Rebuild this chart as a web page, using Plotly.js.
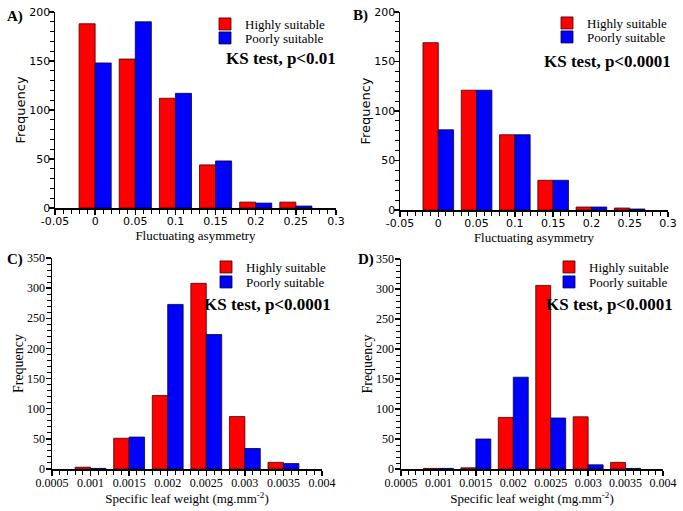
<!DOCTYPE html>
<html>
<head>
<meta charset="utf-8">
<script src="https://cdn.plot.ly/plotly-3.0.1.min.js"></script>
<style>html,body{margin:0;padding:0;background:#fff;}#chart{width:683px;height:511px;}</style>
</head>
<body>
<div id="chart"></div>
<script>
// Bin centres
const faBins = [0, 0.05, 0.1, 0.15, 0.2, 0.25];
const slwBins = [0.001, 0.0015, 0.002, 0.0025, 0.003, 0.0035];

// Panel A (Fluctuating asymmetry)
const aHigh = [188, 152, 112, 44, 6, 6];
const aPoor = [148, 190, 117, 48, 5, 2];
// Panel B
const bHigh = [169, 121, 76, 30, 3, 2];
const bPoor = [81, 121, 76, 30, 3, 1];
// Panel C (Specific leaf weight)
const cHigh = [3, 51, 122, 308, 87, 11];
const cPoor = [1, 53, 273, 223, 34, 9];
// Panel D
const dHigh = [1, 2, 86, 306, 87, 11];
const dPoor = [1, 50, 153, 85, 7, 1];

const seriesNames = ["Highly suitable", "Poorly suitable"];
const panelLabels = ["A)", "B)", "C)", "D)"];
const ksTexts = ["KS test, p<0.01", "KS test, p<0.0001", "KS test, p<0.0001", "KS test, p<0.0001"];
const faTickVals = [-0.05, 0, 0.05, 0.1, 0.15, 0.2, 0.25, 0.3];
const faTickText = ["-0.05", "0", "0.05", "0.1", "0.15", "0.2", "0.25", "0.3"];
const slwTickVals = [0.0005, 0.001, 0.0015, 0.002, 0.0025, 0.003, 0.0035, 0.004];
const slwTickText = ["0.0005", "0.001", "0.0015", "0.002", "0.0025", "0.003", "0.0035", "0.004"];

const RED = "#ff0000", BLUE = "#0000ff";
const W = 683, H = 511;
const SERIF = "Liberation Serif, Times New Roman, serif";
const SANS = "DejaVu Sans, Verdana, sans-serif";

function px(x) { return x / W; }
function py(y) { return (H - y) / H; }

const panels = [
  {x: faBins, hi: aHigh, po: aPoor, xa: "x", ya: "y", lgH: "legend", lgP: "legend5"},
  {x: faBins, hi: bHigh, po: bPoor, xa: "x2", ya: "y2", lgH: "legend2", lgP: "legend6"},
  {x: slwBins, hi: cHigh, po: cPoor, xa: "x3", ya: "y3", lgH: "legend3", lgP: "legend7"},
  {x: slwBins, hi: dHigh, po: dPoor, xa: "x4", ya: "y4", lgH: "legend4", lgP: "legend8"}
];

const data = [];
panels.forEach(p => {
  data.push({type: "bar", x: p.x, y: p.hi, name: seriesNames[0], xaxis: p.xa, yaxis: p.ya, legend: p.lgH,
    marker: {color: RED, line: {color: "#400000", width: 0.8}}, hoverinfo: "x+y"});
  data.push({type: "bar", x: p.x, y: p.po, name: seriesNames[1], xaxis: p.xa, yaxis: p.ya, legend: p.lgP,
    marker: {color: BLUE, line: {color: "#000040", width: 0.8}}, hoverinfo: "x+y"});
});

function xAxis(domain, range, tv, tt, minorDt, title, anchor, tickFont) {
  return {
    domain: domain, range: range, anchor: anchor, showgrid: false, zeroline: false,
    showline: true, linecolor: "#000", linewidth: 1.5,
    ticks: "outside", ticklen: 5, tickwidth: 1.5, tickcolor: "#000",
    tickmode: "array", tickvals: tv, ticktext: tt, ticklabelstandoff: -3,
    minor: {dtick: minorDt, ticks: "outside", ticklen: 4, tickwidth: 1, tickcolor: "#000", showgrid: false},
    tickfont: tickFont,
    title: {text: title, font: {family: SERIF, size: 13, color: "#000"}, standoff: 0},
    fixedrange: true
  };
}
function yAxis(domain, range, dt, anchor, tickFont, titleFont, lblOff) {
  return {
    domain: domain, range: range, anchor: anchor, showgrid: false, zeroline: false,
    showline: true, linecolor: "#000", linewidth: 1.5,
    ticks: "outside", ticklen: 5, tickwidth: 1.5, tickcolor: "#000",
    dtick: dt, tick0: 0, ticklabelstandoff: lblOff,
    minor: {dtick: 10, ticks: "outside", ticklen: 4, tickwidth: 1, tickcolor: "#000", showgrid: false},
    tickfont: tickFont,
    title: {text: "Frequency", font: titleFont, standoff: 0},
    fixedrange: true
  };
}

const faTickFont = {family: SANS, size: 11, color: "#000"};
const slwTickFont = {family: SERIF, size: 12, color: "#000"};
const sansTitle = {family: SANS, size: 13, color: "#000"};
const serifTitle = {family: SERIF, size: 14, color: "#000"};
const slwTitle = "Specific leaf weight (mg.mm<sup>-2</sup>)";

// text row centre (ty) and text left edge (tx) in pixels
function legendAt(tx, ty) {
  return {x: px(tx - 41), y: py(ty - 15), xref: "paper", yref: "paper", xanchor: "left", yanchor: "top",
    bgcolor: "rgba(0,0,0,0)", font: {family: SERIF, size: 13, color: "#000"},
    itemwidth: 30, tracegroupgap: 0};
}

function ann(text, x, y, anchor, size) {
  return {text: "<b>" + text + "</b>", x: px(x), y: py(y), xref: "paper", yref: "paper",
    xanchor: anchor, yanchor: "middle", showarrow: false, font: {family: SERIF, size: size, color: "#000"}};
}

const layout = {
  width: W, height: H, margin: {l: 0, r: 0, t: 0, b: 0},
  paper_bgcolor: "#fff", plot_bgcolor: "#fff",
  barmode: "group", bargap: 0.2, bargroupgap: 0,
  showlegend: true,
  xaxis: xAxis([px(55), px(336)], [-0.05, 0.3], faTickVals, faTickText, 0.01, "Fluctuating asymmetry", "y", faTickFont),
  yaxis: yAxis([py(208), py(12)], [0, 200], 50, "x", faTickFont, sansTitle, -4),
  xaxis2: xAxis([px(400), px(668)], [-0.05, 0.3], faTickVals, faTickText, 0.01, "Fluctuating asymmetry", "y2", faTickFont),
  yaxis2: yAxis([py(210), py(12)], [0, 200], 50, "x2", faTickFont, sansTitle, -4),
  xaxis3: xAxis([px(52), px(322)], [0.0005, 0.004], slwTickVals, slwTickText, 0.0001, slwTitle, "y3", slwTickFont),
  yaxis3: yAxis([py(469), py(258)], [0, 350], 50, "x3", slwTickFont, serifTitle, -2),
  xaxis4: xAxis([px(401), px(663)], [0.0005, 0.004], slwTickVals, slwTickText, 0.0001, slwTitle, "y4", slwTickFont),
  yaxis4: yAxis([py(469), py(259)], [0, 350], 50, "x4", slwTickFont, serifTitle, -2),
  legend: legendAt(246, 24),
  legend5: legendAt(246, 38),
  legend2: legendAt(588, 23),
  legend6: legendAt(588, 37),
  legend3: legendAt(247, 267),
  legend7: legendAt(247, 282),
  legend4: legendAt(590, 267),
  legend8: legendAt(590, 282),
  annotations: [
    ann(panelLabels[0], 5, 16, "left", 15),
    ann(panelLabels[1], 351, 15, "left", 15),
    ann(panelLabels[2], 5, 259, "left", 15),
    ann(panelLabels[3], 356, 259, "left", 15),
    ann(ksTexts[0], 338, 58, "right", 17),
    ann(ksTexts[1], 673, 61, "right", 17),
    ann(ksTexts[2], 333, 304, "right", 17),
    ann(ksTexts[3], 675, 304, "right", 17)
  ]
};

Plotly.newPlot("chart", data, layout, {displayModeBar: false, staticPlot: true});
</script>
</body>
</html>
